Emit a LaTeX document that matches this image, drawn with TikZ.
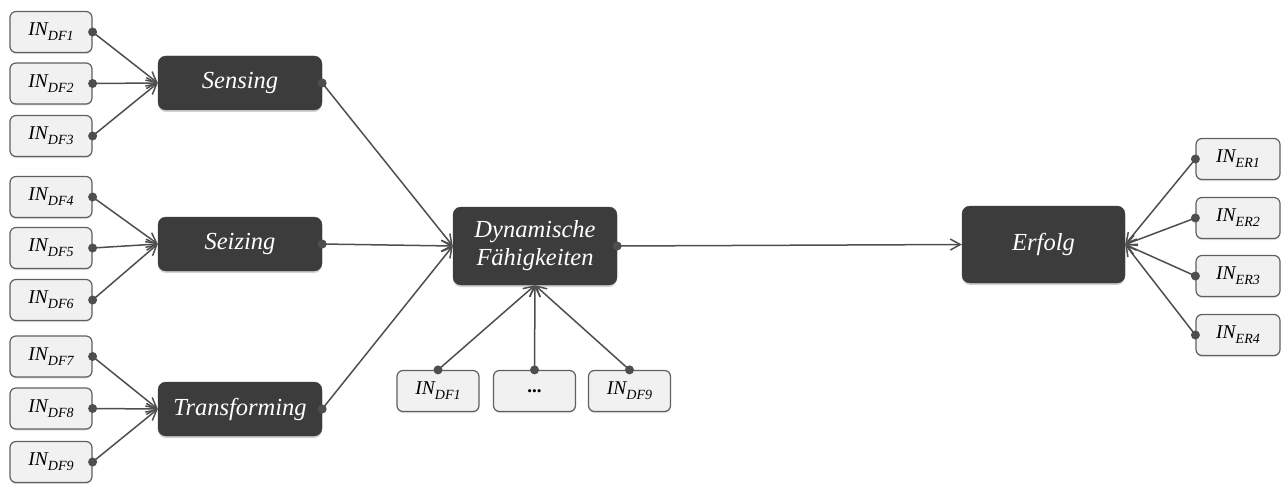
\documentclass[tikz,border=0pt]{standalone}
\usepackage{fontspec}
\setmainfont{Liberation Serif}
\usetikzlibrary{arrows.meta,shadows}
\definecolor{boxdark}{HTML}{3C3C3C}
\definecolor{boxlight}{HTML}{F1F1F1}
\definecolor{edgegray}{HTML}{606060}
\definecolor{linegray}{HTML}{4E4E4E}
\newcommand{\indic}[2]{{\fontsize{19.5}{19.5}\selectfont\itshape #1}\raisebox{-5pt}{\fontsize{14}{14}\selectfont\itshape #2}}
\tikzset{
  darkbox/.style={draw=boxdark, fill=boxdark, rounded corners=8pt, text=white,
    font=\fontsize{24.5}{28}\selectfont\itshape, align=center, inner sep=0pt,
    minimum width=164pt, minimum height=54pt,
    drop shadow={opacity=0.35, shadow xshift=0pt, shadow yshift=-2pt}},
  lightbox/.style={draw=edgegray, fill=boxlight, rounded corners=6pt, line width=1.2pt,
    inner sep=0pt, minimum width=82pt, minimum height=41pt,
    drop shadow={opacity=0.25, shadow xshift=0pt, shadow yshift=-1.5pt}},
  link/.style={draw=linegray, line width=1.5pt,
    -{Straight Barb[length=10pt,width=11pt,line width=1.5pt]}},
  pin/.style={fill=linegray, draw=none, circle, inner sep=0pt, minimum size=9pt}
}
\begin{document}
\begin{tikzpicture}[x=1pt,y=-1pt]
\useasboundingbox (0,0) rectangle (1282,484);

% indicator boxes on the left
\node[lightbox] (d1) at (51,32)    {\indic{IN}{DF1}};
\node[lightbox] (d2) at (51,83.5)  {\indic{IN}{DF2}};
\node[lightbox] (d3) at (51,136)   {\indic{IN}{DF3}};
\node[lightbox] (d4) at (51,197)   {\indic{IN}{DF4}};
\node[lightbox] (d5) at (51,248)   {\indic{IN}{DF5}};
\node[lightbox] (d6) at (51,300)   {\indic{IN}{DF6}};
\node[lightbox] (d7) at (51,356.5) {\indic{IN}{DF7}};
\node[lightbox] (d8) at (51,408.5) {\indic{IN}{DF8}};
\node[lightbox] (d9) at (51,462)   {\indic{IN}{DF9}};

% capability dimensions
\node[darkbox] (sen) at (240,83)  {Sensing};
\node[darkbox] (sei) at (240,244) {Seizing};
\node[darkbox] (tra) at (240,409) {Transforming};

% central construct and outcome
\node[darkbox, minimum height=78pt] (dyn) at (535,246) {Dynamische\\Fähigkeiten};
\node[darkbox, minimum width=163pt, minimum height=77pt] (erf) at (1043.5,244.5) {Erfolg};

% indicators below the central construct
\node[lightbox] (b1) at (438,391)   {\indic{IN}{DF1}};
\node[lightbox] (b2) at (534.5,391) {\fontsize{19}{19}\selectfont\bfseries ...};
\node[lightbox] (b3) at (629.5,391) {\indic{IN}{DF9}};

% outcome indicators
\node[lightbox, minimum width=84pt] (e1) at (1238,159) {\indic{IN}{ER1}};
\node[lightbox, minimum width=84pt] (e2) at (1238,218) {\indic{IN}{ER2}};
\node[lightbox, minimum width=84pt] (e3) at (1238,276) {\indic{IN}{ER3}};
\node[lightbox, minimum width=84pt] (e4) at (1238,335) {\indic{IN}{ER4}};

% connectors
\foreach \s in {d1,d2,d3} \draw[link] (\s.east) -- (sen.west);
\foreach \s in {d4,d5,d6} \draw[link] (\s.east) -- (sei.west);
\foreach \s in {d7,d8,d9} \draw[link] (\s.east) -- (tra.west);
\foreach \s in {sen,sei,tra} \draw[link] (\s.east) -- (dyn.west);
\foreach \s in {b1,b2,b3} \draw[link] (\s.north) -- (dyn.south);
\draw[link] (dyn.east) -- (erf.west);
\foreach \s in {e1,e2,e3,e4} \draw[link] (\s.west) -- (erf.east);

% connector start points
\foreach \s in {d1,d2,d3,d4,d5,d6,d7,d8,d9,sen,sei,tra,dyn}
  \node[pin] (p-\s) at (\s.east) {};
\foreach \s in {b1,b2,b3} \node[pin] (p-\s) at (\s.north) {};
\foreach \s in {e1,e2,e3,e4} \node[pin] (p-\s) at (\s.west) {};
\end{tikzpicture}
\end{document}
